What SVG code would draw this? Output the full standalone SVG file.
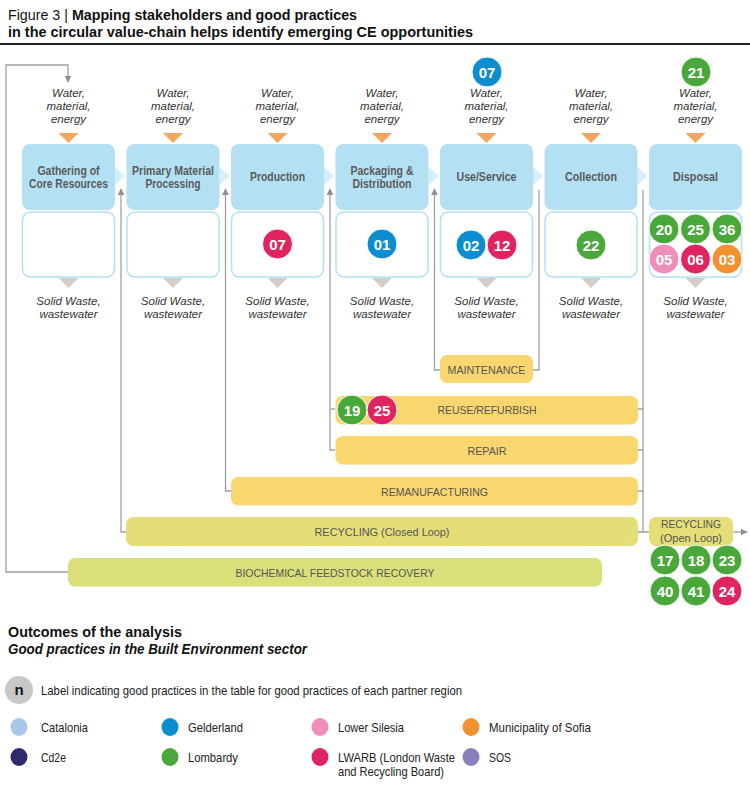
<svg xmlns="http://www.w3.org/2000/svg" width="750" height="805" viewBox="0 0 750 805">
<defs>
<style>
text{font-family:"Liberation Sans",Arial,sans-serif;}
.stage{fill:#b4e0f4;}
.wbox{fill:#fff;stroke:#b4e0f4;stroke-width:1.5;}
.chev{fill:#d5eef9;}
.tin{fill:#f4a65f;}
.tout{fill:#d8cdc6;}
.io{font-size:11.5px;font-style:italic;fill:#333;text-anchor:middle;}
.sname{font-size:12px;font-weight:bold;fill:#5a5a5a;text-anchor:middle;}
.num{font-size:15px;font-weight:bold;fill:#fff;text-anchor:middle;}
.loop{fill:#f9d76e;}
.bio{fill:#d9e07a;}
.ll{font-size:11.5px;fill:#555;text-anchor:middle;}
.con{fill:none;stroke:#a0a0a0;stroke-width:1.3;}
.gel{fill:#0a8ecf;}
.lom{fill:#4aa83a;}
.lwa{fill:#e0245f;}
.los{fill:#ee8fbb;}
.sof{fill:#f39130;}
.cat{fill:#a9c7e8;}
.cd2{fill:#2e2a6e;}
.sos{fill:#8a80bd;}
.circ{stroke:#fff;stroke-width:1;}
.leg{font-size:13px;fill:#222;}
</style>
<marker id="ah" viewBox="0 0 10 10" refX="9" refY="5" markerWidth="7" markerHeight="7" orient="auto" markerUnits="userSpaceOnUse">
<path d="M0,0 L10,5 L0,10 z" fill="#909090"/>
</marker>
<pattern id="hatch" width="6" height="6" patternUnits="userSpaceOnUse" patternTransform="rotate(45)">
<rect width="6" height="6" fill="#dde07a"/>
<rect width="2.5" height="6" fill="#efdc74"/>
</pattern>
</defs>

<!-- Title -->
<g id="title">
<text x="8" y="20" font-size="15" fill="#111" textLength="349" lengthAdjust="spacingAndGlyphs">Figure 3 | <tspan font-weight="bold">Mapping stakeholders and good practices</tspan></text>
<text x="8" y="37" font-size="15" font-weight="bold" fill="#111" textLength="465" lengthAdjust="spacingAndGlyphs">in the circular value-chain helps identify emerging CE opportunities</text>
<rect x="0" y="43" width="750" height="2" fill="#222"/>
</g>

<!-- Connectors -->
<g id="connectors">
<path class="con" d="M68,572 H6 V65 H68 V82" marker-end="url(#ah)"/>
<path class="con" d="M126,532 H121 V189" marker-end="url(#ah)"/>
<path class="con" d="M231,491 H225.5 V189" marker-end="url(#ah)"/>
<path class="con" d="M335,450 H330 V189" marker-end="url(#ah)"/>
<path class="con" d="M335,409 H330"/>
<path class="con" d="M440,370 H434.5 V189" marker-end="url(#ah)"/>
<path class="con" d="M533,370 H539 V190"/>
<path class="con" d="M643,190 V532"/>
<path class="con" d="M638,409 H643 M638,450 H643 M638,491 H643 M638,532 H649"/>
<path class="con" d="M733,532 H747" marker-end="url(#ah)"/>
</g>

<!-- Chevrons between stages -->
<g id="chevrons">
<path class="chev" d="M115,167 L125,176 L115,185 z"/>
<path class="chev" d="M219.5,167 L229.5,176 L219.5,185 z"/>
<path class="chev" d="M324,167 L334,176 L324,185 z"/>
<path class="chev" d="M428.5,167 L438.5,176 L428.5,185 z"/>
<path class="chev" d="M533,167 L543,176 L533,185 z"/>
<path class="chev" d="M637.5,167 L647.5,176 L637.5,185 z"/>
</g>

<!-- Stage 1 -->
<g id="stage-gathering">
<text class="io" x="68.5" y="97">Water,</text><text class="io" x="68.5" y="110">material,</text><text class="io" x="68.5" y="123">energy</text>
<path class="tin" d="M58.5,133 H78.5 L68.5,143 z"/>
<rect class="stage" x="22" y="144" width="93" height="66" rx="8"/>
<text class="sname" x="68.5" y="175" textLength="62" lengthAdjust="spacingAndGlyphs">Gathering of</text><text class="sname" x="68.5" y="188" textLength="79" lengthAdjust="spacingAndGlyphs">Core Resources</text>
<rect class="wbox" x="22.5" y="212" width="92" height="65" rx="8"/>
<path class="tout" d="M58.5,278 H78.5 L68.5,288 z"/>
<text class="io" x="68.5" y="305">Solid Waste,</text><text class="io" x="68.5" y="318">wastewater</text>
</g>

<!-- Stage 2 -->
<g id="stage-primary">
<text class="io" x="173" y="97">Water,</text><text class="io" x="173" y="110">material,</text><text class="io" x="173" y="123">energy</text>
<path class="tin" d="M163,133 H183 L173,143 z"/>
<rect class="stage" x="126.5" y="144" width="93" height="66" rx="8"/>
<text class="sname" x="173" y="175" textLength="82" lengthAdjust="spacingAndGlyphs">Primary Material</text><text class="sname" x="173" y="188" textLength="55" lengthAdjust="spacingAndGlyphs">Processing</text>
<rect class="wbox" x="127" y="212" width="92" height="65" rx="8"/>
<path class="tout" d="M163,278 H183 L173,288 z"/>
<text class="io" x="173" y="305">Solid Waste,</text><text class="io" x="173" y="318">wastewater</text>
</g>

<!-- Stage 3 -->
<g id="stage-production">
<text class="io" x="277.5" y="97">Water,</text><text class="io" x="277.5" y="110">material,</text><text class="io" x="277.5" y="123">energy</text>
<path class="tin" d="M267.5,133 H287.5 L277.5,143 z"/>
<rect class="stage" x="231" y="144" width="93" height="66" rx="8"/>
<text class="sname" x="277.5" y="181" textLength="55" lengthAdjust="spacingAndGlyphs">Production</text>
<rect class="wbox" x="231.5" y="212" width="92" height="65" rx="8"/>
<circle class="lwa circ" cx="277.5" cy="244" r="15"/><text class="num" x="277.5" y="249.5">07</text>
<path class="tout" d="M267.5,278 H287.5 L277.5,288 z"/>
<text class="io" x="277.5" y="305">Solid Waste,</text><text class="io" x="277.5" y="318">wastewater</text>
</g>

<!-- Stage 4 -->
<g id="stage-packaging">
<text class="io" x="382" y="97">Water,</text><text class="io" x="382" y="110">material,</text><text class="io" x="382" y="123">energy</text>
<path class="tin" d="M372,133 H392 L382,143 z"/>
<rect class="stage" x="335.5" y="144" width="93" height="66" rx="8"/>
<text class="sname" x="382" y="175" textLength="63" lengthAdjust="spacingAndGlyphs">Packaging &amp;</text><text class="sname" x="382" y="188" textLength="59" lengthAdjust="spacingAndGlyphs">Distribution</text>
<rect class="wbox" x="336" y="212" width="92" height="65" rx="8"/>
<circle class="gel circ" cx="382" cy="244" r="15"/><text class="num" x="382" y="249.5">01</text>
<path class="tout" d="M372,278 H392 L382,288 z"/>
<text class="io" x="382" y="305">Solid Waste,</text><text class="io" x="382" y="318">wastewater</text>
</g>

<!-- Stage 5 -->
<g id="stage-use">
<circle class="gel circ" cx="487" cy="72" r="15"/><text class="num" x="487" y="77.5">07</text>
<text class="io" x="486.5" y="97">Water,</text><text class="io" x="486.5" y="110">material,</text><text class="io" x="486.5" y="123">energy</text>
<path class="tin" d="M476.5,133 H496.5 L486.5,143 z"/>
<rect class="stage" x="440" y="144" width="93" height="66" rx="8"/>
<text class="sname" x="486.5" y="181" textLength="60" lengthAdjust="spacingAndGlyphs">Use/Service</text>
<rect class="wbox" x="440.5" y="212" width="92" height="65" rx="8"/>
<circle class="gel circ" cx="471" cy="245" r="15"/><text class="num" x="471" y="250.5">02</text>
<circle class="lwa circ" cx="502" cy="245" r="15"/><text class="num" x="502" y="250.5">12</text>
<path class="tout" d="M476.5,278 H496.5 L486.5,288 z"/>
<text class="io" x="486.5" y="305">Solid Waste,</text><text class="io" x="486.5" y="318">wastewater</text>
</g>

<!-- Stage 6 -->
<g id="stage-collection">
<text class="io" x="591" y="97">Water,</text><text class="io" x="591" y="110">material,</text><text class="io" x="591" y="123">energy</text>
<path class="tin" d="M581,133 H601 L591,143 z"/>
<rect class="stage" x="544.5" y="144" width="93" height="66" rx="8"/>
<text class="sname" x="591" y="181" textLength="52" lengthAdjust="spacingAndGlyphs">Collection</text>
<rect class="wbox" x="545" y="212" width="92" height="65" rx="8"/>
<circle class="lom circ" cx="591" cy="245" r="15"/><text class="num" x="591" y="250.5">22</text>
<path class="tout" d="M581,278 H601 L591,288 z"/>
<text class="io" x="591" y="305">Solid Waste,</text><text class="io" x="591" y="318">wastewater</text>
</g>

<!-- Stage 7 -->
<g id="stage-disposal">
<circle class="lom circ" cx="696" cy="72" r="15"/><text class="num" x="696" y="77.5">21</text>
<text class="io" x="695.5" y="97">Water,</text><text class="io" x="695.5" y="110">material,</text><text class="io" x="695.5" y="123">energy</text>
<path class="tin" d="M685.5,133 H705.5 L695.5,143 z"/>
<rect class="stage" x="649" y="144" width="93" height="66" rx="8"/>
<text class="sname" x="695.5" y="181" textLength="45" lengthAdjust="spacingAndGlyphs">Disposal</text>
<rect class="wbox" x="649.5" y="212" width="92" height="65" rx="8"/>
<circle class="lom circ" cx="664" cy="229" r="15"/><text class="num" x="664" y="234.5">20</text>
<circle class="lom circ" cx="695.5" cy="229" r="15"/><text class="num" x="695.5" y="234.5">25</text>
<circle class="lom circ" cx="727" cy="229" r="15"/><text class="num" x="727" y="234.5">36</text>
<circle class="los circ" cx="664" cy="259" r="15"/><text class="num" x="664" y="264.5">05</text>
<circle class="lwa circ" cx="695.5" cy="259" r="15"/><text class="num" x="695.5" y="264.5">06</text>
<circle class="sof circ" cx="727" cy="259" r="15"/><text class="num" x="727" y="264.5">03</text>
<path class="tout" d="M685.5,278 H705.5 L695.5,288 z"/>
<text class="io" x="695.5" y="305">Solid Waste,</text><text class="io" x="695.5" y="318">wastewater</text>
</g>

<!-- Loops -->
<g id="loop-maintenance">
<rect class="loop" x="440" y="355" width="93" height="28" rx="7"/>
<text class="ll" x="486.5" y="373.5" textLength="78" lengthAdjust="spacingAndGlyphs">MAINTENANCE</text>
</g>
<g id="loop-reuse">
<rect class="loop" x="335.5" y="396" width="302.5" height="28.5" rx="7"/>
<text class="ll" x="487" y="414" textLength="99" lengthAdjust="spacingAndGlyphs">REUSE/REFURBISH</text>
<circle class="lom circ" cx="352" cy="410" r="15"/><text class="num" x="352" y="415.5">19</text>
<circle class="lwa circ" cx="382" cy="410" r="15"/><text class="num" x="382" y="415.5">25</text>
</g>
<g id="loop-repair">
<rect class="loop" x="335.5" y="436" width="302.5" height="28.5" rx="7"/>
<text class="ll" x="487" y="454.5" textLength="39" lengthAdjust="spacingAndGlyphs">REPAIR</text>
</g>
<g id="loop-remanufacturing">
<rect class="loop" x="231" y="477" width="407" height="28.5" rx="7"/>
<text class="ll" x="434.5" y="495.5" textLength="107" lengthAdjust="spacingAndGlyphs">REMANUFACTURING</text>
</g>
<g id="loop-recycling-closed">
<rect x="126" y="517" width="512" height="29" rx="7" fill="url(#hatch)"/>
<text class="ll" x="382" y="536" textLength="135" lengthAdjust="spacingAndGlyphs">RECYCLING (Closed Loop)</text>
</g>
<g id="loop-recycling-open">
<rect x="649" y="517" width="84" height="29" rx="7" fill="url(#hatch)"/>
<text class="ll" x="691" y="528" textLength="60" lengthAdjust="spacingAndGlyphs">RECYCLING</text>
<text class="ll" x="691" y="542" textLength="62" lengthAdjust="spacingAndGlyphs">(Open Loop)</text>
<circle class="lom circ" cx="665" cy="560" r="15"/><text class="num" x="665" y="565.5">17</text>
<circle class="lom circ" cx="696" cy="560" r="15"/><text class="num" x="696" y="565.5">18</text>
<circle class="lom circ" cx="727" cy="560" r="15"/><text class="num" x="727" y="565.5">23</text>
<circle class="lom circ" cx="665" cy="591" r="15"/><text class="num" x="665" y="596.5">40</text>
<circle class="lom circ" cx="696" cy="591" r="15"/><text class="num" x="696" y="596.5">41</text>
<circle class="lwa circ" cx="727" cy="591" r="15"/><text class="num" x="727" y="596.5">24</text>
</g>
<g id="loop-biochemical">
<rect class="bio" x="68" y="558" width="534" height="28.5" rx="7"/>
<text class="ll" x="335" y="576.5" textLength="199" lengthAdjust="spacingAndGlyphs">BIOCHEMICAL FEEDSTOCK RECOVERY</text>
</g>

<!-- Legend -->
<g id="legend">
<text x="8" y="637" font-size="15" font-weight="bold" fill="#111" textLength="174" lengthAdjust="spacingAndGlyphs">Outcomes of the analysis</text>
<text x="8" y="654" font-size="15" font-weight="bold" font-style="italic" fill="#111" textLength="299" lengthAdjust="spacingAndGlyphs">Good practices in the Built Environment sector</text>
<circle cx="19" cy="690" r="14" fill="#c8c8c8"/>
<text x="19" y="695" font-size="15" font-weight="bold" fill="#111" text-anchor="middle">n</text>
<text class="leg" x="41" y="694.5" textLength="421" lengthAdjust="spacingAndGlyphs">Label indicating good practices in the table for good practices of each partner region</text>
<ellipse class="cat" cx="19" cy="727" rx="8.5" ry="9"/><text class="leg" x="41" y="731.5" textLength="47" lengthAdjust="spacingAndGlyphs">Catalonia</text>
<ellipse class="gel" cx="170" cy="727" rx="8.5" ry="9"/><text class="leg" x="188" y="731.5" textLength="55" lengthAdjust="spacingAndGlyphs">Gelderland</text>
<ellipse class="los" cx="320" cy="727" rx="8.5" ry="9"/><text class="leg" x="338" y="731.5" textLength="66" lengthAdjust="spacingAndGlyphs">Lower Silesia</text>
<ellipse class="sof" cx="471" cy="727" rx="8.5" ry="9"/><text class="leg" x="489" y="731.5" textLength="102" lengthAdjust="spacingAndGlyphs">Municipality of Sofia</text>
<ellipse class="cd2" cx="19" cy="757" rx="8.5" ry="9"/><text class="leg" x="41" y="761.5" textLength="25" lengthAdjust="spacingAndGlyphs">Cd2e</text>
<ellipse class="lom" cx="170" cy="757" rx="8.5" ry="9"/><text class="leg" x="188" y="761.5" textLength="50" lengthAdjust="spacingAndGlyphs">Lombardy</text>
<ellipse class="lwa" cx="320" cy="757" rx="8.5" ry="9"/><text class="leg" x="338" y="761.5" textLength="117" lengthAdjust="spacingAndGlyphs">LWARB (London Waste</text>
<text class="leg" x="338" y="775.5" textLength="106" lengthAdjust="spacingAndGlyphs">and Recycling Board)</text>
<ellipse class="sos" cx="471" cy="757" rx="8.5" ry="9"/><text class="leg" x="489" y="761.5" textLength="22" lengthAdjust="spacingAndGlyphs">SOS</text>
</g>
</svg>
